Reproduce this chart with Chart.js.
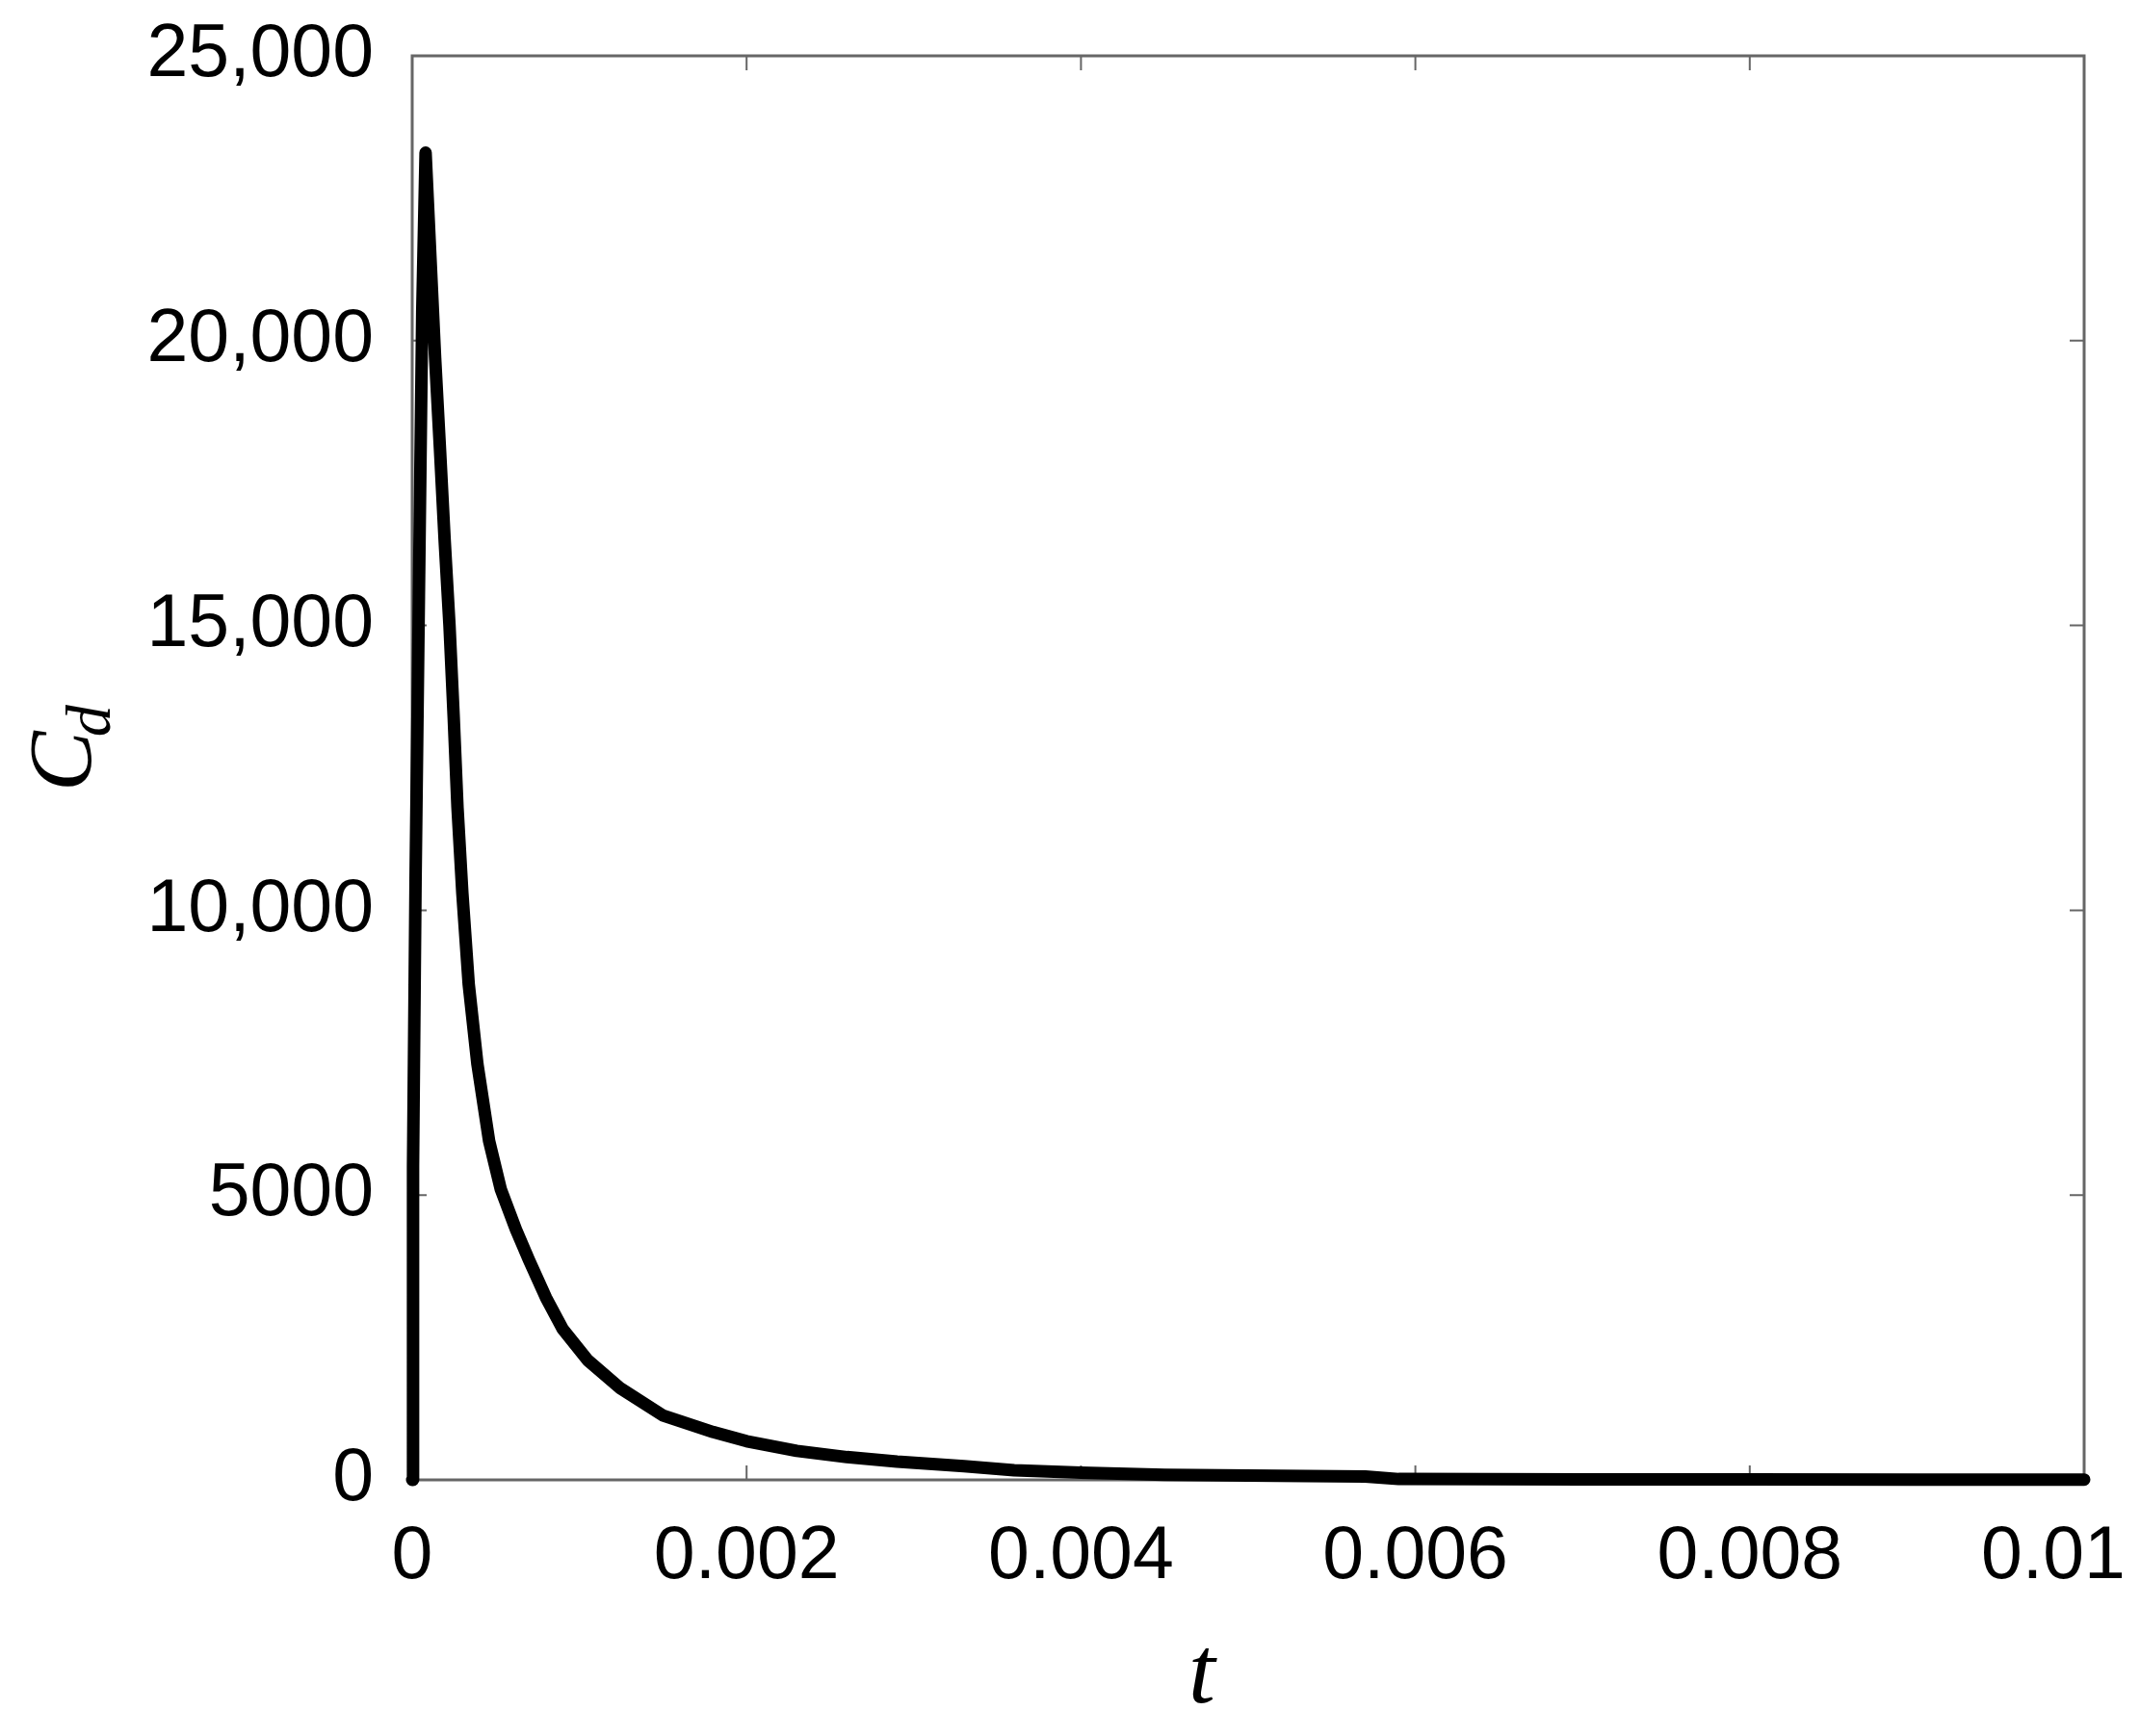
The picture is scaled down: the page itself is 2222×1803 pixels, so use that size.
<!DOCTYPE html>
<html>
<head>
<meta charset="utf-8">
<script src="https://cdn.jsdelivr.net/npm/chart.js@4.4.1/dist/chart.umd.min.js"></script>
<style>
    html, body { margin: 0; padding: 0; background: #ffffff; overflow: hidden; }
    .chart-box { width: 2222px; height: 1803px; position: relative; }
</style>
</head>
<body>
<div class="chart-box"><canvas id="cdChart"></canvas></div>
<script>
// values
const tValues = [0, 0.000005, 0.00002, 0.00004, 0.00006, 0.00008, 0.00011, 0.000137, 0.000166, 0.000194,
    0.000223, 0.000248, 0.000271, 0.0003, 0.000338, 0.00039, 0.00046, 0.00053, 0.00062, 0.0007,
    0.0008, 0.0009, 0.00105, 0.00124, 0.0015, 0.0018, 0.002, 0.0023, 0.0026, 0.0029,
    0.0033, 0.0036, 0.004, 0.0045, 0.005, 0.0057, 0.0059, 0.007, 0.008, 0.009, 0.01];
const cdValues = [0, 5500, 10500, 15500, 20500, 23300, 21400, 19700, 18100, 16500,
    15000, 13400, 11800, 10300, 8700, 7300, 5950, 5100, 4400, 3850,
    3200, 2650, 2100, 1620, 1130, 840, 680, 510, 400, 320,
    240, 170, 125, 90, 75, 60, 15, 10, 8, 5, 5];

const xTickValues = [0, 0.002, 0.004, 0.006, 0.008, 0.01];
const xTickLabels = ['0', '0.002', '0.004', '0.006', '0.008', '0.01'];
const yTickValues = [0, 5000, 10000, 15000, 20000, 25000];
const yTickLabels = ['0', '5000', '10,000', '15,000', '20,000', '25,000'];

const frameColor = '#666666';
const tickLen = 15;
const labelFont = { family: '"Liberation Sans", Arial, sans-serif', size: 77 };

// box around the plot with inward ticks on all four sides
const framePlugin = {
    id: 'frame',
    beforeDatasetsDraw(chart) {
        const { ctx, chartArea: a, scales: { x, y } } = chart;
        ctx.save();
        ctx.strokeStyle = frameColor;
        ctx.lineWidth = 3;
        ctx.strokeRect(a.left, a.top, a.right - a.left, a.bottom - a.top);
        ctx.lineWidth = 2;
        ctx.beginPath();
        xTickValues.forEach(v => {
            const px = x.getPixelForValue(v);
            ctx.moveTo(px, a.bottom); ctx.lineTo(px, a.bottom - tickLen);
            ctx.moveTo(px, a.top); ctx.lineTo(px, a.top + tickLen);
        });
        yTickValues.forEach(v => {
            const py = y.getPixelForValue(v);
            ctx.moveTo(a.left, py); ctx.lineTo(a.left + tickLen, py);
            ctx.moveTo(a.right, py); ctx.lineTo(a.right - tickLen, py);
        });
        ctx.stroke();
        ctx.restore();
    }
};

// axis titles: italic t, and C with subscript d rotated
const titlePlugin = {
    id: 'titles',
    afterDraw(chart) {
        const ctx = chart.ctx;
        ctx.save();
        ctx.fillStyle = '#000000';
        ctx.font = 'italic 100px "Liberation Serif", serif';
        ctx.textAlign = 'center';
        ctx.textBaseline = 'alphabetic';
        ctx.fillText('t', 1248, 1768);

        ctx.translate(94, 822);
        ctx.rotate(-Math.PI / 2);
        ctx.textAlign = 'left';
        ctx.font = 'italic 94px "Liberation Serif", serif';
        ctx.fillText('C', 0, 0);
        const cw = ctx.measureText('C').width;
        ctx.font = 'italic 66px "Liberation Serif", serif';
        ctx.fillText('d', cw - 6, 20);
        ctx.restore();
    }
};

const ctx = document.getElementById('cdChart').getContext('2d');
new Chart(ctx, {
    type: 'line',
    data: {
        datasets: [{
            data: tValues.map((t, i) => ({ x: t, y: cdValues[i] })),
            borderColor: '#000000',
            borderWidth: 13,
            borderJoinStyle: 'round',
            borderCapStyle: 'round',
            pointRadius: 0,
            tension: 0,
            fill: false,
            clip: 8
        }]
    },
    options: {
        responsive: true,
        maintainAspectRatio: false,
        animation: false,
        layout: { padding: { top: 58, right: 58, left: 0, bottom: 0 } },
        plugins: {
            legend: { display: false },
            tooltip: { enabled: false }
        },
        scales: {
            x: {
                type: 'linear',
                min: 0,
                max: 0.01,
                grid: { display: false, drawTicks: false },
                border: { display: false },
                afterBuildTicks: (scale) => { scale.ticks = xTickValues.map(v => ({ value: v })); },
                afterFit: (scale) => {
                    scale.height = 266;
                    scale.paddingLeft = 0;
                    scale.paddingRight = 0;
                },
                ticks: {
                    color: '#000000',
                    font: labelFont,
                    padding: 35,
                    maxRotation: 0,
                    autoSkip: false,
                    callback: (v) => {
                        const i = xTickValues.findIndex(t => Math.abs(t - v) < 1e-9);
                        // last label sits pulled in from the page edge
                        return i === xTickValues.length - 1 ? xTickLabels[i] + '   ' : xTickLabels[i];
                    }
                }
            },
            y: {
                min: 0,
                max: 25000,
                grid: { display: false, drawTicks: false },
                border: { display: false },
                afterBuildTicks: (scale) => { scale.ticks = yTickValues.map(v => ({ value: v })); },
                afterFit: (scale) => {
                    scale.width = 428;
                    scale.paddingTop = 0;
                    scale.paddingBottom = 0;
                },
                ticks: {
                    color: '#000000',
                    font: labelFont,
                    padding: 40,
                    autoSkip: false,
                    callback: (v) => yTickLabels[yTickValues.indexOf(v)]
                }
            }
        }
    },
    plugins: [framePlugin, titlePlugin]
});
</script>
</body>
</html>
